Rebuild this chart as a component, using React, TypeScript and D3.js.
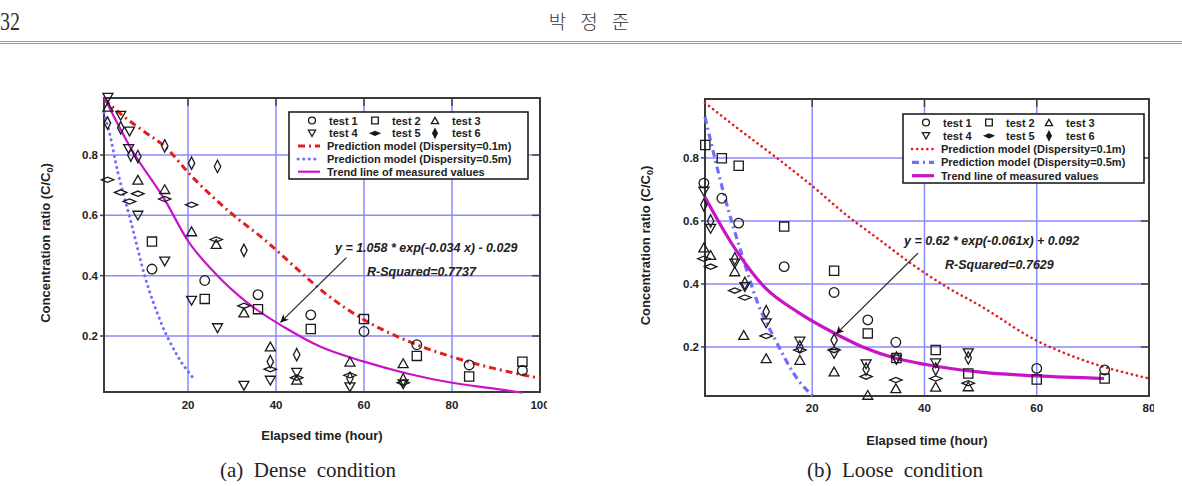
import React, { useEffect, useRef } from 'react';
import * as d3 from 'd3';

type Pt = [number, number];

// ---- (a) Dense condition: measured values ----
const DENSE_TEST1: Pt[] = [[11.8, 0.422], [23.8, 0.384], [35.9, 0.337], [47.9, 0.27], [60, 0.215], [72, 0.171], [83.9, 0.104], [96, 0.086]];
const DENSE_TEST2: Pt[] = [[11.8, 0.513], [23.8, 0.323], [35.9, 0.289], [47.9, 0.223], [60, 0.256], [72, 0.134], [83.9, 0.066], [96, 0.115]];
const DENSE_TEST3: Pt[] = [[1.8, 0.96], [8.6, 0.718], [14.7, 0.687], [20.8, 0.547], [26.4, 0.505], [32.7, 0.278], [38.7, 0.165], [44.7, 0.055], [56.8, 0.115], [68.9, 0.11]];
const DENSE_TEST4: Pt[] = [[1.8, 0.99], [4.7, 0.93], [6.7, 0.878], [6.5, 0.82], [8.6, 0.599], [14.7, 0.447], [20.8, 0.317], [26.7, 0.226], [32.7, 0.035], [38.7, 0.052], [44.7, 0.078], [56.8, 0.03], [68.9, 0.04]];
const DENSE_TEST5: Pt[] = [[1.7, 0.718], [4.7, 0.676], [6.7, 0.646], [8.6, 0.672], [14.7, 0.654], [20.8, 0.635], [26.4, 0.52], [32.7, 0.3], [38.7, 0.09], [44.7, 0.062], [56.8, 0.07], [68.9, 0.045]];
const DENSE_TEST6: Pt[] = [[1.7, 0.906], [4.7, 0.89], [7, 0.8], [8.6, 0.795], [14.7, 0.83], [20.8, 0.773], [26.7, 0.762], [32.7, 0.484], [38.7, 0.115], [44.7, 0.138], [56.8, 0.06], [68.9, 0.055]];

// ---- (a) Dense condition: model and trend curves ----
const DENSE_MODEL_01: Pt[] = [[0.9, 0.985], [5.2, 0.93], [10, 0.878], [14.7, 0.828], [20.8, 0.73], [29.8, 0.607], [37.4, 0.519], [44.2, 0.43], [50.7, 0.347], [60, 0.254], [71, 0.177], [80.2, 0.13], [93.9, 0.078], [100, 0.06]];
const DENSE_MODEL_05: Pt[] = [[0.9, 0.94], [1.8, 0.895], [4.1, 0.74], [7.1, 0.574], [10.2, 0.397], [13.9, 0.243], [17.7, 0.132], [21.5, 0.055]];
const DENSE_TREND: Pt[] = [[1, 0.99], [7.1, 0.82], [14.7, 0.652], [20, 0.515], [26.1, 0.409], [33.6, 0.309], [42, 0.228], [50, 0.165], [60, 0.115], [70, 0.075], [80, 0.045], [90, 0.025], [96, 0.012]];

// ---- (b) Loose condition: measured values ----
const LOOSE_TEST1: Pt[] = [[0.7, 0.72], [3.9, 0.672], [6.9, 0.593], [15, 0.455], [23.9, 0.373], [29.9, 0.286], [34.9, 0.215], [60, 0.132], [72.1, 0.127]];
const LOOSE_TEST2: Pt[] = [[0.95, 0.841], [3.9, 0.799], [6.9, 0.775], [15, 0.582], [23.9, 0.442], [29.9, 0.243], [35, 0.165], [42, 0.19], [47.8, 0.116], [60, 0.097], [72.1, 0.1]];
const LOOSE_TEST3: Pt[] = [[0.7, 0.516], [1.9, 0.492], [6.2, 0.44], [7.8, 0.238], [11.8, 0.164], [17.8, 0.159], [23.9, 0.122], [29.9, 0.048], [34.9, 0.069], [42, 0.074], [47.8, 0.075]];
const LOOSE_TEST4: Pt[] = [[0.7, 0.693], [1.9, 0.575], [6.2, 0.465], [8, 0.39], [11.8, 0.275], [17.8, 0.217], [23.9, 0.178], [29.6, 0.145], [35, 0.16], [42, 0.148], [47.8, 0.18]];
const LOOSE_TEST5: Pt[] = [[0.7, 0.48], [1.9, 0.455], [6.2, 0.379], [8, 0.357], [11.8, 0.235], [17.8, 0.19], [23.9, 0.19], [29.6, 0.106], [34.9, 0.095], [42, 0.1], [47.8, 0.085]];
const LOOSE_TEST6: Pt[] = [[0.7, 0.651], [1.9, 0.6], [6.2, 0.48], [8, 0.402], [11.8, 0.312], [17.8, 0.2], [23.9, 0.222], [29.6, 0.13], [35, 0.165], [42, 0.13], [47.8, 0.165]];

// ---- (b) Loose condition: model and trend curves ----
const LOOSE_MODEL_01: Pt[] = [[0.9, 0.975], [7, 0.89], [13.7, 0.8], [20, 0.711], [26, 0.62], [32, 0.54], [38, 0.46], [44, 0.39], [50, 0.33], [60, 0.22], [68, 0.16], [80, 0.1]];
const LOOSE_MODEL_05: Pt[] = [[0.9, 0.93], [2, 0.847], [4.4, 0.677], [7.4, 0.497], [10.3, 0.339], [13.5, 0.22], [17.5, 0.095], [20.1, 0.045]];
const LOOSE_TREND: Pt[] = [[0.9, 0.675], [5.6, 0.53], [11.5, 0.39], [17.5, 0.31], [23.4, 0.249], [29, 0.2], [34.7, 0.165], [40, 0.145], [50, 0.12], [60, 0.108], [72, 0.1]];

const X_TICKS_DENSE = [20, 40, 60, 80, 100];
const X_TICKS_LOOSE = [20, 40, 60, 80];
const Y_TICKS = [0.2, 0.4, 0.6, 0.8];

const TEST_NAMES = ['test 1', 'test 2', 'test 3', 'test 4', 'test 5', 'test 6'];
const SHAPES = ['circle', 'square', 'triangle', 'down', 'hdiamond', 'vdiamond'];
const MODEL_LABELS = [
  'Prediction model (Dispersity=0.1m)',
  'Prediction model (Dispersity=0.5m)',
  'Trend line of measured values',
];

const SANS = '"Liberation Sans", Arial, Helvetica, sans-serif';
const SERIF = '"Liberation Serif", "Times New Roman", serif';
const GRID = '#8a8aff';
const RED = '#e02020';
const BLUE = '#6f6fff';
const MAGENTA = '#c814c8';

function shapePath(shape: string, k = 1): string {
  switch (shape) {
    case 'circle': {
      const r = 4.8 * k;
      return `M${-r},0A${r},${r} 0 1,0 ${r},0A${r},${r} 0 1,0 ${-r},0Z`;
    }
    case 'square': {
      const h = 4.6 * k;
      return `M${-h},${-h}H${h}V${h}H${-h}Z`;
    }
    case 'triangle': {
      const w = 5 * k, h = 4.4 * k;
      return `M0,${-h}L${w},${h}L${-w},${h}Z`;
    }
    case 'down': {
      const w = 5 * k, h = 4.4 * k;
      return `M0,${h}L${w},${-h}L${-w},${-h}Z`;
    }
    case 'hdiamond': {
      const w = 6.2 * k, h = 2.6 * k;
      return `M${-w},0L0,${-h}L${w},0L0,${h}Z`;
    }
    default: {
      const w = 3.2 * k, h = 6.2 * k;
      return `M${-w},0L0,${-h}L${w},0L0,${h}Z`;
    }
  }
}

const PLOTS = [
  {
    id: 'dense',
    left: 104, top: 98, right: 540, bottom: 392,
    xDomain: [0.9, 100], yDomain: [0.0144, 0.989],
    xTicks: X_TICKS_DENSE, clipRight: 547,
    tests: [DENSE_TEST1, DENSE_TEST2, DENSE_TEST3, DENSE_TEST4, DENSE_TEST5, DENSE_TEST6],
    curves: [
      { data: DENSE_MODEL_01, color: RED, width: 3, dash: '7,4,2,4', cap: 'butt' },
      { data: DENSE_MODEL_05, color: BLUE, width: 3, dash: '0.1,5.5', cap: 'round' },
      { data: DENSE_TREND, color: MAGENTA, width: 2.2, dash: null, cap: 'butt' },
    ],
    legend: { x: 289, y: 112, w: 239, h: 67, gap: 12.8 },
    eq: 'y = 1.058 * exp(-0.034 x) - 0.029', eqAt: [53.4, 0.48],
    r2: 'R-Squared=0.7737', r2At: [60.7, 0.399],
    arrow: [[56, 0.46], [41, 0.245]],
    yLabelX: 50, xLabelX: 322, xLabelY: 435,
    tickLabelDy: 13,
    caption: '(a)  Dense  condition', captionX: 308,
  },
  {
    id: 'loose',
    left: 705, top: 99, right: 1149, bottom: 396,
    xDomain: [0.9, 80], yDomain: [0.0444, 0.987],
    xTicks: X_TICKS_LOOSE, clipRight: 1154,
    tests: [LOOSE_TEST1, LOOSE_TEST2, LOOSE_TEST3, LOOSE_TEST4, LOOSE_TEST5, LOOSE_TEST6],
    curves: [
      { data: LOOSE_MODEL_01, color: RED, width: 2.6, dash: '0.1,5', cap: 'round' },
      { data: LOOSE_MODEL_05, color: BLUE, width: 3.2, dash: '7,4,2,4', cap: 'butt' },
      { data: LOOSE_TREND, color: MAGENTA, width: 3.2, dash: null, cap: 'butt' },
    ],
    legend: { x: 903, y: 114, w: 241, h: 69, gap: 13.3 },
    eq: 'y = 0.62 * exp(-0.061x) + 0.092', eqAt: [36.35, 0.525],
    r2: 'R-Squared=0.7629', r2At: [43.66, 0.446],
    arrow: [[38.85, 0.498], [24.24, 0.241]],
    yLabelX: 650, xLabelX: 927, xLabelY: 440,
    tickLabelDy: 12,
    caption: '(b)  Loose  condition', captionX: 895,
  },
];

export default function App() {
  const svgRef = useRef<SVGSVGElement | null>(null);

  useEffect(() => {
    const svg = d3.select(svgRef.current);
    svg.selectAll('*').remove();

    const defs = svg.append('defs');
    defs.append('marker')
      .attr('id', 'arrowhead')
      .attr('viewBox', '0 0 10 10')
      .attr('refX', 10).attr('refY', 5)
      .attr('markerWidth', 11).attr('markerHeight', 8)
      .attr('markerUnits', 'userSpaceOnUse')
      .attr('orient', 'auto')
      .append('path')
      .attr('d', 'M0,0L10,5L0,10L3,5Z')
      .attr('fill', '#111');

    // page header
    svg.append('text')
      .attr('transform', 'translate(0,30) scale(0.8,1)')
      .attr('font-family', SERIF).attr('font-size', 25)
      .attr('fill', '#333')
      .text('32');
    svg.append('text')
      .attr('x', 596).attr('y', 29)
      .attr('text-anchor', 'middle')
      .attr('font-family', '"Noto Sans CJK KR", sans-serif')
      .attr('font-weight', 300)
      .attr('font-size', 19)
      .attr('letter-spacing', 14)
      .attr('fill', '#333')
      .text('박정준');
    [41.5, 43.5].forEach(yy => {
      svg.append('line')
        .attr('x1', 0).attr('x2', 1182)
        .attr('y1', yy).attr('y2', yy)
        .attr('stroke', '#9a9a9a').attr('stroke-width', 1);
    });

    PLOTS.forEach(p => {
      defs.append('clipPath').attr('id', `clip-${p.id}`)
        .append('rect')
        .attr('x', p.left - 120).attr('y', 0)
        .attr('width', p.clipRight - p.left + 120).attr('height', 486);

      const g = svg.append('g').attr('clip-path', `url(#clip-${p.id})`);
      const x = d3.scaleLinear().domain(p.xDomain).range([p.left, p.right]);
      const y = d3.scaleLinear().domain(p.yDomain).range([p.bottom, p.top]);

      // grid
      p.xTicks.filter(t => t < p.xDomain[1]).forEach(t => {
        g.append('line')
          .attr('x1', x(t)).attr('x2', x(t))
          .attr('y1', p.top).attr('y2', p.bottom)
          .attr('stroke', GRID).attr('stroke-width', 1.5);
      });
      Y_TICKS.forEach(t => {
        g.append('line')
          .attr('x1', p.left).attr('x2', p.right)
          .attr('y1', y(t)).attr('y2', y(t))
          .attr('stroke', GRID).attr('stroke-width', 1.5);
      });

      // inward ticks on top and right, outward on left
      p.xTicks.filter(t => t < p.xDomain[1]).forEach(t => {
        g.append('line')
          .attr('x1', x(t)).attr('x2', x(t))
          .attr('y1', p.top).attr('y2', p.top + 8)
          .attr('stroke', '#444').attr('stroke-width', 1.5);
      });
      Y_TICKS.forEach(t => {
        g.append('line')
          .attr('x1', p.right - 8).attr('x2', p.right)
          .attr('y1', y(t)).attr('y2', y(t))
          .attr('stroke', '#444').attr('stroke-width', 1.5);
        g.append('line')
          .attr('x1', p.left - 4).attr('x2', p.left)
          .attr('y1', y(t)).attr('y2', y(t))
          .attr('stroke', '#444').attr('stroke-width', 1.5);
      });

      // frame
      g.append('rect')
        .attr('x', p.left).attr('y', p.top)
        .attr('width', p.right - p.left).attr('height', p.bottom - p.top)
        .attr('fill', 'none').attr('stroke', '#3a3a3a').attr('stroke-width', 2);

      // tick labels
      Y_TICKS.forEach(t => {
        g.append('text')
          .attr('x', p.left - 6).attr('y', y(t))
          .attr('text-anchor', 'end').attr('dominant-baseline', 'central')
          .attr('font-family', SANS).attr('font-weight', 'bold').attr('font-size', 11.5)
          .attr('fill', '#222')
          .text(d3.format('.1f')(t));
      });
      p.xTicks.forEach(t => {
        g.append('text')
          .attr('x', x(t)).attr('y', p.bottom + p.tickLabelDy)
          .attr('text-anchor', 'middle').attr('dominant-baseline', 'central')
          .attr('font-family', SANS).attr('font-weight', 'bold').attr('font-size', 11.5)
          .attr('fill', '#222')
          .text(String(t));
      });

      // axis titles
      const yl = g.append('text')
        .attr('transform', `translate(${p.yLabelX},${(p.top + p.bottom) / 2 - 2}) rotate(-90)`)
        .attr('text-anchor', 'middle')
        .attr('font-family', SANS).attr('font-weight', 'bold').attr('font-size', 13)
        .attr('fill', '#222');
      yl.append('tspan').text('Concentration ratio (C/C');
      yl.append('tspan').attr('font-size', 9).attr('dy', 3).text('0');
      yl.append('tspan').attr('dy', -3).text(')');

      g.append('text')
        .attr('x', p.xLabelX).attr('y', p.xLabelY)
        .attr('text-anchor', 'middle').attr('dominant-baseline', 'central')
        .attr('font-family', SANS).attr('font-weight', 'bold').attr('font-size', 13)
        .attr('fill', '#222')
        .text('Elapsed time (hour)');

      // curves
      const line = d3.line<Pt>()
        .x(d => x(d[0])).y(d => y(d[1]))
        .curve(d3.curveMonotoneX);
      p.curves.forEach(c => {
        g.append('path')
          .attr('d', line(c.data))
          .attr('fill', 'none')
          .attr('stroke', c.color)
          .attr('stroke-width', c.width)
          .attr('stroke-linecap', c.cap)
          .attr('stroke-dasharray', c.dash);
      });

      // measured points
      p.tests.forEach((pts, i) => {
        g.selectAll(null)
          .data(pts)
          .enter()
          .append('path')
          .attr('transform', d => `translate(${x(d[0])},${y(d[1])})`)
          .attr('d', shapePath(SHAPES[i]))
          .attr('fill', 'none')
          .attr('stroke', '#1a1a1a')
          .attr('stroke-width', 1.3);
      });

      // equation and arrow
      const [ax0, ay0] = p.arrow[0];
      const [ax1, ay1] = p.arrow[1];
      g.append('line')
        .attr('x1', x(ax0)).attr('y1', y(ay0))
        .attr('x2', x(ax1)).attr('y2', y(ay1))
        .attr('stroke', '#222').attr('stroke-width', 1.2)
        .attr('marker-end', 'url(#arrowhead)');
      g.append('text')
        .attr('x', x(p.eqAt[0])).attr('y', y(p.eqAt[1]))
        .attr('font-family', SANS).attr('font-weight', 'bold').attr('font-style', 'italic')
        .attr('font-size', 12.5).attr('fill', '#222')
        .text(p.eq);
      g.append('text')
        .attr('x', x(p.r2At[0])).attr('y', y(p.r2At[1]))
        .attr('font-family', SANS).attr('font-weight', 'bold').attr('font-style', 'italic')
        .attr('font-size', 12.5).attr('fill', '#222')
        .text(p.r2);

      // legend
      const L = p.legend;
      const lg = g.append('g').attr('transform', `translate(${L.x},${L.y})`);
      lg.append('rect')
        .attr('width', L.w).attr('height', L.h)
        .attr('fill', '#fff').attr('stroke', '#111').attr('stroke-width', 1.5);
      const cols = [23, 86, 146];
      TEST_NAMES.forEach((name, i) => {
        const cx = cols[i % 3];
        const cy = 8.5 + Math.floor(i / 3) * L.gap;
        lg.append('path')
          .attr('transform', `translate(${cx},${cy})`)
          .attr('d', shapePath(SHAPES[i], 0.72))
          .attr('fill', i >= 4 ? '#1a1a1a' : 'none')
          .attr('stroke', '#1a1a1a').attr('stroke-width', 1.3);
        lg.append('text')
          .attr('x', cx + 17).attr('y', cy)
          .attr('dominant-baseline', 'central')
          .attr('font-family', SANS).attr('font-weight', 'bold').attr('font-size', 11)
          .attr('fill', '#222')
          .text(name);
      });
      p.curves.forEach((c, i) => {
        const cy = 8.5 + (i + 2) * L.gap;
        lg.append('line')
          .attr('x1', 9).attr('x2', 31)
          .attr('y1', cy).attr('y2', cy)
          .attr('stroke', c.color)
          .attr('stroke-width', c.width)
          .attr('stroke-linecap', c.cap)
          .attr('stroke-dasharray', c.dash);
        lg.append('text')
          .attr('x', 38).attr('y', cy)
          .attr('dominant-baseline', 'central')
          .attr('font-family', SANS).attr('font-weight', 'bold').attr('font-size', 11)
          .attr('fill', '#222')
          .text(MODEL_LABELS[i]);
      });

      // caption
      svg.append('text')
        .attr('x', p.captionX).attr('y', 477)
        .attr('text-anchor', 'middle')
        .attr('font-family', SERIF).attr('font-size', 21)
        .attr('fill', '#222')
        .style('white-space', 'pre')
        .text(p.caption);
    });
  }, []);

  return (
    <svg
      ref={svgRef}
      width={1182}
      height={486}
      style={{ position: 'absolute', left: 0, top: 0, background: '#fff' }}
    />
  );
}
